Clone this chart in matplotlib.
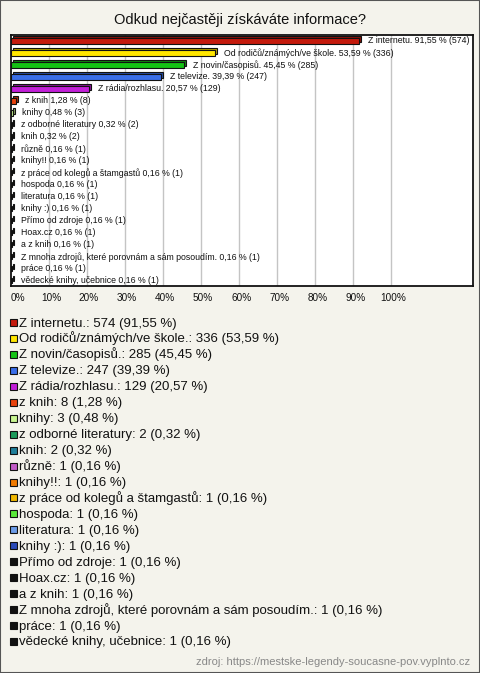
import numpy as np
import matplotlib
matplotlib.use("Agg")
import matplotlib.pyplot as plt
from matplotlib.patches import Rectangle
from matplotlib.transforms import ScaledTranslation, blended_transform_factory
from matplotlib.colors import to_rgb

plt.rcParams['font.family'] = ['Liberation Sans', 'DejaVu Sans']

title = "Odkud nejčastěji získáváte informace?"
source = "zdroj: https://mestske-legendy-soucasne-pov.vyplnto.cz"

labels = ["Z internetu.", "Od rodičů/známých/ve škole.", "Z novin/časopisů.", "Z televize.",
          "Z rádia/rozhlasu.", "z knih", "knihy", "z odborné literatury", "knih", "různě",
          "knihy!!", "z práce od kolegů a štamgastů", "hospoda", "literatura", "knihy :)",
          "Přímo od zdroje", "Hoax.cz", "a z knih", "Z mnoha zdrojů, které porovnám a sám posoudím.",
          "práce", "vědecké knihy, učebnice"]
counts = [574, 336, 285, 247, 129, 8, 3, 2, 2, 1, 1, 1, 1, 1, 1, 1, 1, 1, 1, 1, 1]
percents = [91.55, 53.59, 45.45, 39.39, 20.57, 1.28, 0.48, 0.32, 0.32, 0.16, 0.16, 0.16,
            0.16, 0.16, 0.16, 0.16, 0.16, 0.16, 0.16, 0.16, 0.16]
colors = ['#c41a0c', '#ffe600', '#14c214', '#3a6ee8', '#c21fd8', '#e8420c', '#c8f590',
          '#1a9a5a', '#1f7f9a', '#c25cc8', '#f07a00', '#f0b800', '#5ae83a', '#6c9ce8',
          '#2a4ab8', '#111111', '#111111', '#111111', '#111111', '#111111', '#111111']
ticks = list(range(0, 101, 10))

W, H = 480, 673
fig = plt.figure(figsize=(W / 100, H / 100), dpi=100, facecolor='#f4f3ec')
fig.patches.append(Rectangle((0, 0), 1, 1, transform=fig.transFigure, fill=False,
                             edgecolor='#555555', linewidth=1.5))

fig.text(240 / W, 1 - 20 / H, title, ha='center', va='center', fontsize=10.5, color='#111111')

ax = fig.add_axes([11 / W, 1 - 286 / H, 462 / W, 251 / H])
ax.set_facecolor('white')
ax.set_xlim(0, 121.5)
ax.set_ylim(20.42, -0.5)
for s in ax.spines.values():
    s.set_linewidth(1.3)
    s.set_color('#111111')
    s.set_zorder(1)

for t in ticks[1:]:
    ax.axvline(t, color='#c4c4c4', linewidth=1, zorder=0)

y = np.arange(len(labels))
dark = [tuple(v * 0.7 for v in to_rgb(c)) for c in colors]
shift = ax.transData + ScaledTranslation(2 / 100, 2 / 100, fig.dpi_scale_trans)
ax.barh(y, percents, height=0.42, color=dark, edgecolor='#111111', linewidth=0.8,
        transform=shift, zorder=2)
ax.barh(y, percents, height=0.42, color=colors, edgecolor='#111111', linewidth=0.8, zorder=3)

for i, (lab, p, c) in enumerate(zip(labels, percents, counts)):
    pct = f"{p:.2f}".replace('.', ',')
    ax.annotate(f"{lab} {pct} % ({c})", (p, i), xytext=(6.5, 0), textcoords='offset points',
                va='center', ha='left', fontsize=6.3, color='#111111',
                annotation_clip=False, zorder=4)

ax.set_xticks([])
ax.set_yticks([])
tick_tr = blended_transform_factory(ax.transData, fig.transFigure)
for t in ticks:
    off = 7 if t == 0 else 2
    ax.text(t, 1 - 298 / H, f"{t}%", transform=tick_tr + ScaledTranslation(off / 100, 0, fig.dpi_scale_trans),
            ha='center', va='center', fontsize=7.2, color='#111111')

# legend
for i, (lab, p, c, col) in enumerate(zip(labels, percents, counts, colors)):
    yy = 322.5 + i * 15.95
    fig.patches.append(Rectangle((10 / W, 1 - (yy + 3.5) / H), 7 / W, 7 / H, transform=fig.transFigure,
                                 facecolor=col, edgecolor='#111111', linewidth=0.8))
    pct = f"{p:.2f}".replace('.', ',')
    fig.text(19 / W, 1 - (yy + 4) / H, f"{lab}: {c} ({pct} %)", ha='left', va='baseline',
             fontsize=9.5, color='#111111')

fig.text(470 / W, 1 - 662 / H, source, ha='right', va='center', fontsize=8, color='#888888')

fig.savefig('out.png', dpi=100, facecolor=fig.get_facecolor())
